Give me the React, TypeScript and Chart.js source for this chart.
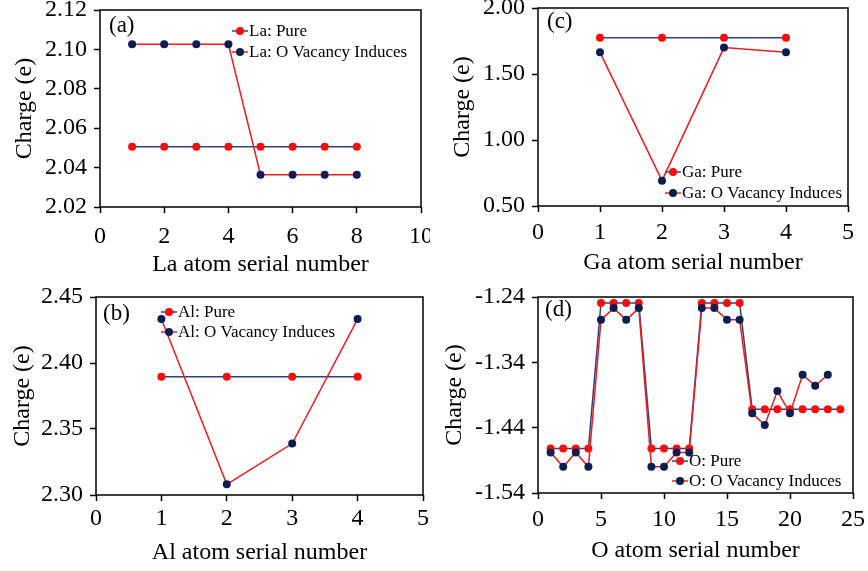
import React, { useEffect, useRef } from "react";
import { Chart, registerables } from "chart.js";

Chart.register(...registerables);

const FONT = "'Liberation Serif', 'Times New Roman', Times, serif";
const RED = "#ff0a0a";
const RED_LINE = "#f01c1c";
const NAVY = "#0b1e52";
const NAVY_LINE = "#2b4386";

// ---------- Panel (a): La ----------
const laAtoms = [1, 2, 3, 4, 5, 6, 7, 8];
const laPure = [2.0506, 2.0506, 2.0506, 2.0506, 2.0506, 2.0506, 2.0506, 2.0506];
const laVacancy = [2.1026, 2.1026, 2.1026, 2.1026, 2.0364, 2.0364, 2.0364, 2.0364];
const laXTicks = [0, 2, 4, 6, 8, 10];
const laYTicks = [2.02, 2.04, 2.06, 2.08, 2.1, 2.12];

// ---------- Panel (b): Al ----------
const alAtoms = [1, 2, 3, 4];
const alPure = [2.3896, 2.3896, 2.3896, 2.3896];
const alVacancy = [2.4333, 2.3081, 2.339, 2.4333];
const alXTicks = [0, 1, 2, 3, 4, 5];
const alYTicks = [2.3, 2.35, 2.4, 2.45];

// ---------- Panel (c): Ga ----------
const gaAtoms = [1, 2, 3, 4];
const gaPure = [1.775, 1.775, 1.775, 1.775];
const gaVacancy = [1.664, 0.692, 1.7, 1.664];
const gaXTicks = [0, 1, 2, 3, 4, 5];
const gaYTicks = [0.5, 1.0, 1.5, 2.0];

// ---------- Panel (d): O ----------
const oAtoms = [1, 2, 3, 4, 5, 6, 7, 8, 9, 10, 11, 12, 13, 14, 15, 16, 17, 18, 19, 20, 21, 22, 23, 24];
const oPure = [
  -1.472, -1.472, -1.472, -1.472, -1.249, -1.249, -1.249, -1.249,
  -1.472, -1.472, -1.472, -1.472, -1.249, -1.249, -1.249, -1.249,
  -1.412, -1.412, -1.412, -1.412, -1.412, -1.412, -1.412, -1.412,
];
const oVacancyAtoms = [1, 2, 3, 4, 5, 6, 7, 8, 9, 10, 11, 12, 13, 14, 15, 16, 17, 18, 19, 20, 21, 22, 23];
const oVacancy = [
  -1.478, -1.5, -1.478, -1.5, -1.275, -1.257, -1.275, -1.257,
  -1.5, -1.5, -1.478, -1.478, -1.257, -1.257, -1.275, -1.275,
  -1.418, -1.436, -1.384, -1.418, -1.359, -1.376, -1.359,
];
const oXTicks = [0, 5, 10, 15, 20, 25];
const oYTicks = [-1.54, -1.44, -1.34, -1.24];

type PanelCfg = {
  tag: string;
  element: string;
  xTitle: string;
  pureX: number[];
  pure: number[];
  vacX: number[];
  vac: number[];
  xTicks: number[];
  yTicks: number[];
  page: { left: number; top: number; w: number; h: number };
  area: { l: number; t: number; r: number; b: number };
  labelPos: { x: number; y: number };
  legend: { x: number; y1: number; y2: number };
  pads: { xTick: number; xTitle: number; yTitle: number; yTick: number };
};

const panels: PanelCfg[] = [
  {
    tag: "(a)", element: "La", xTitle: "La atom serial number",
    pureX: laAtoms, pure: laPure, vacX: laAtoms, vac: laVacancy,
    xTicks: laXTicks, yTicks: laYTicks,
    page: { left: 0, top: 0, w: 430, h: 280 },
    area: { l: 100, t: 10, r: 421, b: 207 },
    labelPos: { x: 109, y: 26 },
    legend: { x: 240, y1: 31, y2: 52 },
    pads: { xTick: 9, xTitle: 1, yTitle: 10, yTick: 7 },
  },
  {
    tag: "(c)", element: "Ga", xTitle: "Ga atom serial number",
    pureX: gaAtoms, pure: gaPure, vacX: gaAtoms, vac: gaVacancy,
    xTicks: gaXTicks, yTicks: gaYTicks,
    page: { left: 430, top: 0, w: 438, h: 280 },
    area: { l: 108, t: 8, r: 418, b: 206 },
    labelPos: { x: 117, y: 22 },
    legend: { x: 243, y1: 172, y2: 193 },
    pads: { xTick: 6, xTitle: 3, yTitle: 18, yTick: 7 },
  },
  {
    tag: "(b)", element: "Al", xTitle: "Al atom serial number",
    pureX: alAtoms, pure: alPure, vacX: alAtoms, vac: alVacancy,
    xTicks: alXTicks, yTicks: alYTicks,
    page: { left: 0, top: 280, w: 430, h: 291 },
    area: { l: 96, t: 17, r: 423, b: 215 },
    labelPos: { x: 103, y: 34 },
    legend: { x: 169, y1: 32, y2: 52 },
    pads: { xTick: 3, xTitle: 4, yTitle: 8, yTick: 7 },
  },
  {
    tag: "(d)", element: "O", xTitle: "O atom serial number",
    pureX: oAtoms, pure: oPure, vacX: oVacancyAtoms, vac: oVacancy,
    xTicks: oXTicks, yTicks: oYTicks,
    page: { left: 430, top: 280, w: 438, h: 291 },
    area: { l: 108, t: 17, r: 423, b: 213 },
    labelPos: { x: 115, y: 30 },
    legend: { x: 250, y1: 181, y2: 201 },
    pads: { xTick: 6, xTitle: 6, yTitle: 10, yTick: 7 },
  },
];

function makePlugin(p: PanelCfg) {
  return {
    id: "decor" + p.element,
    beforeDatasetsDraw(chart: any) {
      const { ctx, chartArea } = chart;
      ctx.save();
      ctx.strokeStyle = "#000";
      ctx.lineWidth = 1.5;
      ctx.strokeRect(chartArea.left, chartArea.top, chartArea.right - chartArea.left, chartArea.bottom - chartArea.top);
      ctx.restore();
    },
    afterDatasetsDraw(chart: any) {
      const { ctx } = chart;
      ctx.save();
      ctx.fillStyle = "#000";
      ctx.font = `23px ${FONT}`;
      ctx.textBaseline = "middle";
      ctx.textAlign = "left";
      ctx.fillText(p.tag, p.labelPos.x, p.labelPos.y);

      const items = [
        { text: `${p.element}: Pure`, dot: RED, line: NAVY_LINE, y: p.legend.y1 },
        { text: `${p.element}: O Vacancy Induces`, dot: NAVY, line: RED_LINE, y: p.legend.y2 },
      ];
      ctx.font = `17px ${FONT}`;
      for (const it of items) {
        ctx.strokeStyle = it.line;
        ctx.lineWidth = 1.5;
        ctx.beginPath();
        ctx.moveTo(p.legend.x - 8, it.y);
        ctx.lineTo(p.legend.x + 8, it.y);
        ctx.stroke();
        ctx.fillStyle = it.dot;
        ctx.beginPath();
        ctx.arc(p.legend.x, it.y, 4, 0, Math.PI * 2);
        ctx.fill();
        ctx.fillStyle = "#000";
        ctx.fillText(it.text, p.legend.x + 9, it.y + 1);
      }
      ctx.restore();
    },
  };
}

function Panel({ p }: { p: PanelCfg }) {
  const ref = useRef<HTMLCanvasElement | null>(null);
  useEffect(() => {
    if (!ref.current) return;
    const tickFont = { family: FONT, size: 24, lineHeight: 1.2 };
    const chart = new Chart(ref.current, {
      type: "line",
      data: {
        datasets: [
          {
            label: `${p.element}: O Vacancy Induces`,
            data: p.vacX.map((x, i) => ({ x, y: p.vac[i] })),
            borderColor: RED_LINE,
            backgroundColor: NAVY,
            pointBackgroundColor: NAVY,
            pointBorderColor: NAVY,
            pointRadius: 4,
            pointBorderWidth: 0,
            borderWidth: 1.5,
            tension: 0,
          },
          {
            label: `${p.element}: Pure`,
            data: p.pureX.map((x, i) => ({ x, y: p.pure[i] })),
            borderColor: NAVY_LINE,
            backgroundColor: RED,
            pointBackgroundColor: RED,
            pointBorderColor: RED,
            pointRadius: 4,
            pointBorderWidth: 0,
            borderWidth: 1.5,
            tension: 0,
          },
        ],
      },
      options: {
        responsive: false,
        animation: false,
        devicePixelRatio: 1,
        layout: {
          padding: { top: p.area.t, right: p.page.w - p.area.r, left: 0, bottom: 0 },
        },
        plugins: { legend: { display: false }, tooltip: { enabled: false } },
        scales: {
          x: {
            type: "linear",
            min: p.xTicks[0],
            max: p.xTicks[p.xTicks.length - 1],
            afterBuildTicks: (s: any) => {
              s.ticks = p.xTicks.map((v) => ({ value: v }));
            },
            afterFit: (s: any) => {
              s.height = p.page.h - p.area.b;
              s.paddingLeft = 0;
              s.paddingRight = 0;
            },
            border: { display: false },
            grid: { drawOnChartArea: false, drawTicks: true, tickLength: 6, tickColor: "#000", tickWidth: 1.5 },
            ticks: {
              color: "#000",
              font: tickFont,
              padding: p.pads.xTick,
              maxRotation: 0,
              autoSkip: false,
              callback: (v: any) => String(v),
            },
            title: {
              display: true,
              text: p.xTitle,
              color: "#000",
              font: tickFont,
              padding: { top: 0, bottom: p.pads.xTitle },
            },
          },
          y: {
            type: "linear",
            min: p.yTicks[0],
            max: p.yTicks[p.yTicks.length - 1],
            afterBuildTicks: (s: any) => {
              s.ticks = p.yTicks.map((v) => ({ value: v }));
            },
            afterFit: (s: any) => {
              s.width = p.area.l;
              s.paddingTop = 0;
              s.paddingBottom = 0;
            },
            border: { display: false },
            grid: { drawOnChartArea: false, drawTicks: true, tickLength: 6, tickColor: "#000", tickWidth: 1.5 },
            ticks: {
              color: "#000",
              font: tickFont,
              padding: p.pads.yTick,
              autoSkip: false,
              callback: (v: any) => Number(v).toFixed(2),
            },
            title: {
              display: true,
              text: "Charge (e)",
              color: "#000",
              font: tickFont,
              padding: { top: p.pads.yTitle, bottom: 0 },
            },
          },
        },
      },
      plugins: [makePlugin(p)],
    } as any);
    return () => chart.destroy();
  }, [p]);
  return (
    <canvas
      ref={ref}
      width={p.page.w}
      height={p.page.h}
      style={{ position: "absolute", left: p.page.left, top: p.page.top, width: p.page.w, height: p.page.h }}
    />
  );
}

export default function App() {
  return (
    <div style={{ position: "absolute", left: 0, top: 0, width: 868, height: 571, background: "#fff", overflow: "hidden" }}>
      {panels.map((p) => (
        <Panel key={p.tag} p={p} />
      ))}
    </div>
  );
}
